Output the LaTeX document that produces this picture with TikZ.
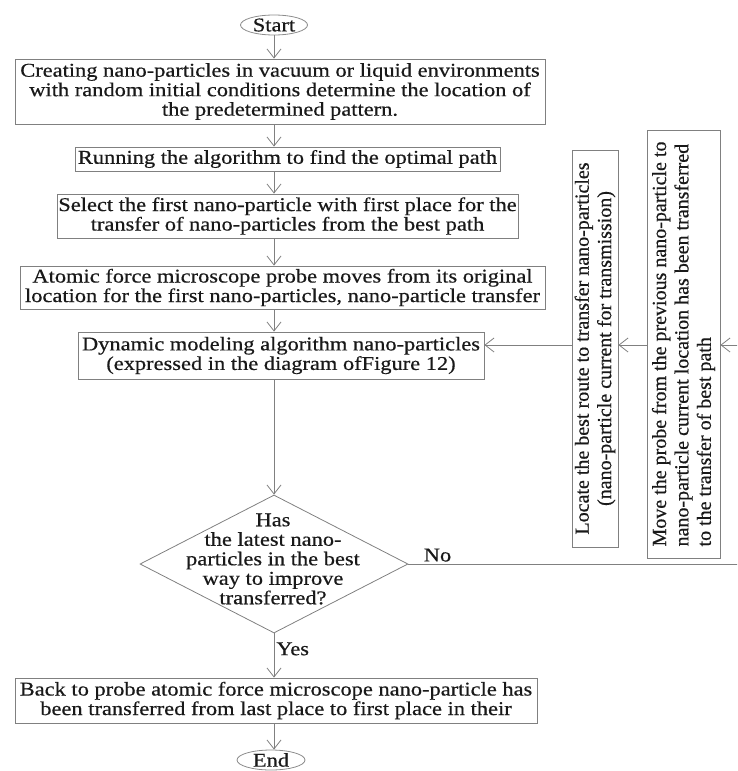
\documentclass[tikz,border=0pt]{standalone}
\usepackage{fontspec}
\setmainfont{Liberation Serif}[FakeStretch=1.15, FakeBold=0.5]
\newfontfamily\uprightserif{Liberation Serif}[FakeBold=0.5]
\usetikzlibrary{arrows.meta,shapes.geometric}

\tikzset{
	flowbox/.style={draw=black!50, line width=0.8pt, text=black!90, inner sep=0pt, align=center, font=\fontsize{19.5}{19.5}\selectfont},
	sidebox/.style={draw=black!50, line width=0.8pt, text=black!90, inner sep=0pt, rotate=90, font=\uprightserif\fontsize{20}{22.4}\selectfont},
	terminal/.style={ellipse, draw=black!45, line width=0.8pt, text=black!90, inner sep=0pt, minimum width=67pt, minimum height=20pt, font=\fontsize{19.5}{19.5}\selectfont},
	decision/.style={diamond, draw=black!50, line width=0.8pt, inner sep=0pt, minimum width=268pt, minimum height=138pt},
	flowlabel/.style={text=black!90, inner sep=2pt, font=\fontsize{19.5}{19.5}\selectfont},
	flowarrow/.style={draw=black!50, line width=0.8pt, -{Straight Barb[length=9pt,width=14pt]}}
}

\begin{document}
\begin{tikzpicture}[x=1pt, y=-1pt]
	%%%%% START %%%%%
	\useasboundingbox (0,0) rectangle (737,771);
	\clip (0,0) rectangle (737,771);
	
	\node[terminal] (start) at (274,25) {Start};
	\node[flowbox, minimum width=530pt, minimum height=65pt] (create) at (280,91.5) {Creating nano-particles in vacuum or liquid environments\\with random initial conditions determine the location of\\the predetermined pattern.};
	\node[flowbox, minimum width=425pt, minimum height=24pt] (run) at (287.5,159) {Running the algorithm to find the optimal path};
	\node[flowbox, minimum width=461pt, minimum height=44pt] (select) at (287.5,216) {Select the first nano-particle with first place for the\\transfer of nano-particles from the best path};
	\node[flowbox, minimum width=525pt, minimum height=43pt] (probe) at (282.5,287.5) {Atomic force microscope probe moves from its original\\location for the first nano-particles, nano-particle transfer};
	\node[flowbox, minimum width=406pt, minimum height=47pt] (model) at (281,355.5) {Dynamic modeling algorithm nano-particles\\(expressed in the diagram ofFigure 12)};
	
	\node[decision] (check) at (274,564) {};
	\node[flowbox, draw=none] (question) at (273,559) {Has\\the latest nano-\\particles in the best\\way to improve\\transferred?};
	
	\node[flowbox, minimum width=522pt, minimum height=45pt] (back) at (276,700.5) {Back to probe atomic force microscope nano-particle has\\been transferred from last place to first place in their};
	\node[terminal, minimum width=68pt] (end) at (271,760) {End};
	
	% side boxes of the loop
	\node[sidebox, align=center, minimum width=397pt, minimum height=46pt] (locate) at (595,348.5) {Locate the best route to transfer nano-particles\\(nano-particle current for transmission)};
	\node[sidebox, align=left, minimum width=428pt, minimum height=73pt] (move) at (683.5,344) {Move the probe from the previous nano-particle to\\nano-particle current location has been transferred\\to the transfer of best path};
	\coordinate (rim) at (750,345);
	
	% main line
	\draw[flowarrow] (start.south) -- (create.north -| start.south);
	\draw[flowarrow] (create.south -| start.south) -- (run.north -| start.south);
	\draw[flowarrow] (run.south -| start.south) -- (select.north -| start.south);
	\draw[flowarrow] (select.south -| start.south) -- (probe.north -| start.south);
	\draw[flowarrow] (probe.south -| start.south) -- (model.north -| start.south);
	\draw[flowarrow] (model.south -| check.north) -- (check.north);
	\draw[flowarrow] (check.south) -- node[flowlabel, pos=0.35, right] {Yes} (back.north -| check.south);
	\draw[flowarrow] (back.south -| start.south) -- (end.north -| start.south);
	
	% loop back
	\draw[flowarrow] (check.east) node[flowlabel, anchor=south west, xshift=13pt] {No} -- (check.east -| rim) -- (rim) -- (move.south |- rim);
	\draw[flowarrow] (move.north |- rim) -- (locate.south |- rim);
	\draw[flowarrow] (locate.north |- rim) -- (model.east |- rim);
	
	%%%%% END %%%%%
\end{tikzpicture}
\end{document}
